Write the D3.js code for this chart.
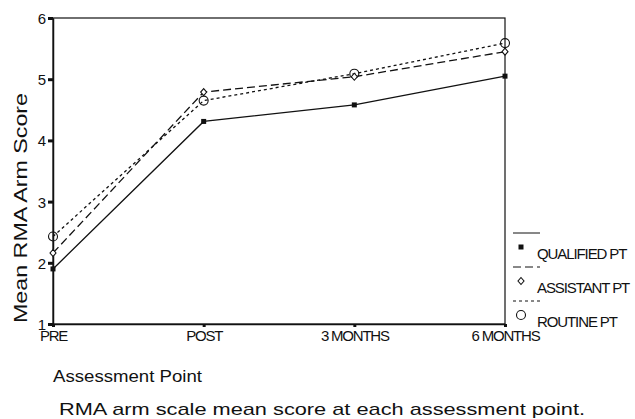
<!DOCTYPE html>
<html>
<head>
<meta charset="utf-8">
<script src="https://cdn.jsdelivr.net/npm/d3@7"></script>
<style>
  body { margin: 0; background: #fff; }
  svg { display: block; font-family: "Liberation Sans", Arial, sans-serif; }
</style>
</head>
<body>
<div id="chart"></div>
<script>
// Data
const categories = ["PRE", "POST", "3 MONTHS", "6 MONTHS"];
const qualified = [1.90, 4.31, 4.58, 5.05];
const assistant = [2.16, 4.79, 5.04, 5.45];
const routine = [2.43, 4.65, 5.09, 5.59];
const yTicks = [1, 2, 3, 4, 5, 6];

const width = 635, height = 419;
const margin = { left: 53, top: 18, right: 130, bottom: 95 };
const innerWidth = width - margin.left - margin.right;   // 452
const innerHeight = height - margin.top - margin.bottom; // 306

const series = [
    { name: "QUALIFIED PT", values: qualified, dash: null, marker: "square" },
    { name: "ASSISTANT PT", values: assistant, dash: "8,4", marker: "diamond" },
    { name: "ROUTINE PT", values: routine, dash: "3,3", marker: "circle" }
];

const svg = d3.select("#chart")
    .append("svg")
    .attr("width", width)
    .attr("height", height);

const g = svg.append("g")
    .attr("transform", `translate(${margin.left},${margin.top})`);

// scales
const x = d3.scalePoint()
    .domain(categories)
    .range([0, innerWidth]);

const y = d3.scaleLinear()
    .domain([1, 6])
    .range([innerHeight, 0]);

// frame
g.append("rect")
    .attr("width", innerWidth)
    .attr("height", innerHeight)
    .attr("fill", "none")
    .attr("stroke", "#111")
    .attr("stroke-width", 1.2);

// axes
const yAxis = g.append("g")
    .call(d3.axisLeft(y).tickValues(yTicks).tickFormat(d3.format("d")).tickSize(5).tickSizeOuter(0));
yAxis.select(".domain").attr("stroke", "#111").attr("stroke-width", 1.5);
yAxis.selectAll(".tick line").attr("stroke", "#111").attr("stroke-width", 3);
yAxis.selectAll(".tick text")
    .attr("x", -7)
    .attr("dy", "0.36em")
    .attr("font-size", 15)
    .attr("font-family", "Liberation Sans, Arial, sans-serif")
    .attr("fill", "#111");

const xAxis = g.append("g")
    .attr("transform", `translate(0,${innerHeight})`)
    .call(d3.axisBottom(x).tickSize(3).tickSizeOuter(0));
xAxis.select(".domain").attr("stroke", "#111").attr("stroke-width", 1.5);
xAxis.selectAll(".tick line").attr("stroke", "#111").attr("stroke-width", 3);
xAxis.selectAll(".tick text")
    .attr("y", 6)
    .attr("font-size", 15)
    .attr("letter-spacing", "-1.2px")
    .attr("font-family", "Liberation Sans, Arial, sans-serif")
    .attr("fill", "#111");

// lines
const line = d3.line()
    .x((d, i) => x(categories[i]))
    .y(d => y(d));

series.forEach(s => {
    g.append("path")
        .datum(s.values)
        .attr("fill", "none")
        .attr("stroke", "#111")
        .attr("stroke-width", 1.3)
        .attr("stroke-dasharray", s.dash)
        .attr("d", line);
});

// markers
const drawMarker = (sel, type, cx, cy) => {
    if (type === "square") {
        sel.append("rect")
            .attr("x", cx - 2.5).attr("y", cy - 2.5)
            .attr("width", 5).attr("height", 5)
            .attr("fill", "#111");
    } else if (type === "diamond") {
        sel.append("path")
            .attr("d", `M${cx},${cy - 3.5}L${cx + 3},${cy}L${cx},${cy + 3.5}L${cx - 3},${cy}Z`)
            .attr("fill", "#fff")
            .attr("stroke", "#111")
            .attr("stroke-width", 1.1);
    } else {
        sel.append("circle")
            .attr("cx", cx).attr("cy", cy).attr("r", 4.5)
            .attr("fill", "none")
            .attr("stroke", "#111")
            .attr("stroke-width", 1.1);
    }
};

series.slice().reverse().forEach(s => {
    const mg = g.append("g");
    s.values.forEach((v, i) => drawMarker(mg, s.marker, x(categories[i]), y(v)));
});

// legend
const legend = svg.append("g").attr("transform", "translate(513,233)");
series.forEach((s, i) => {
    const row = legend.append("g").attr("transform", `translate(0,${i * 34})`);
    row.append("line")
        .attr("x1", 0).attr("x2", 27)
        .attr("y1", 0).attr("y2", 0)
        .attr("stroke", "#111")
        .attr("stroke-width", 1)
        .attr("stroke-dasharray", s.dash);
    drawMarker(row, s.marker, 8, 14);
    row.append("text")
        .attr("x", 24)
        .attr("y", 26)
        .attr("font-size", 15)
        .attr("letter-spacing", "-1.1px")
        .attr("fill", "#111")
        .text(s.name);
});

// axis titles
svg.append("text")
    .attr("transform", `translate(27,208) rotate(-90)`)
    .attr("text-anchor", "middle")
    .attr("font-size", 18)
    .attr("textLength", 230)
    .attr("lengthAdjust", "spacingAndGlyphs")
    .attr("fill", "#111")
    .text("Mean RMA Arm Score");

svg.append("text")
    .attr("x", 53)
    .attr("y", 382)
    .attr("font-size", 16)
    .attr("textLength", 149)
    .attr("lengthAdjust", "spacingAndGlyphs")
    .attr("fill", "#111")
    .text("Assessment Point");

// caption
svg.append("text")
    .attr("x", 59)
    .attr("y", 415)
    .attr("font-size", 17)
    .attr("textLength", 526)
    .attr("lengthAdjust", "spacingAndGlyphs")
    .attr("fill", "#111")
    .text("RMA arm scale mean score at each assessment point.");
</script>
</body>
</html>
